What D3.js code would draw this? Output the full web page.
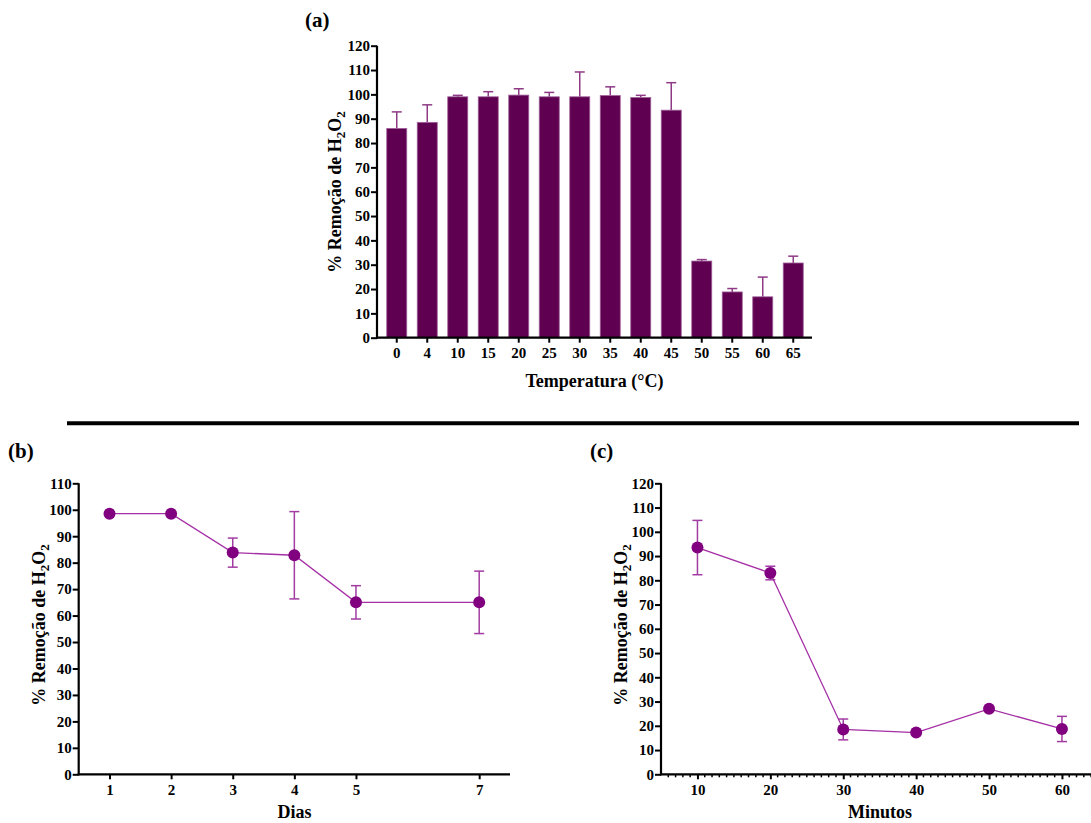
<!DOCTYPE html>
<html><head><meta charset="utf-8">
<script src="https://cdn.jsdelivr.net/npm/d3@7"></script>
<style>
html,body{margin:0;padding:0;background:#fff;}
svg text{font-family:"Liberation Serif","Times New Roman",serif;font-weight:bold;fill:#000;}
</style></head>
<body>
<svg id="c" width="1091" height="823"></svg>
<script>
// ---- data ----
const temps = ["0","4","10","15","20","25","30","35","40","45","50","55","60","65"];
const tempMeans = [86, 88.5, 99, 99, 99.7, 99, 99, 99.5, 98.7, 93.5, 31.5, 18.8, 16.8, 30.7];
const tempErr = [6.8, 7.2, 0.6, 2.1, 2.6, 1.8, 10.2, 3.6, 0.9, 11.3, 0.6, 1.4, 8.1, 2.8];

const days = [1, 2, 3, 4, 5, 7];
const dayMeans = [98.5, 98.5, 83.8, 82.8, 65, 65];
const dayErr = [0, 0, 5.5, 16.5, 6.3, 11.8];
const dayTicks = [1, 2, 3, 4, 5, 7];

const minutes = [10, 20, 30, 40, 50, 60];
const minMeans = [93.5, 83, 18.5, 17.2, 27, 18.7];
const minErr = [11.2, 2.8, 4.3, 0, 0, 5.2];
const minTicks = [10, 20, 30, 40, 50, 60];

const yTicksA = d3.range(0, 121, 10);
const yTicksB = d3.range(0, 111, 10);
const yTicksC = d3.range(0, 121, 10);

// ---- style ----
const barFill = "#600050", barStroke = "#a0609a", barErr = "#8e3a85";
const ptFill = "#800080", lineCol = "#a52fa5", errCol = "#a23ca2";
const tickFs = 15, titleFs = 18;

const svg = d3.select("#c");

function styleAxis(g, fs) {
  g.select(".domain").remove();
  g.selectAll(".tick line").attr("stroke", "#000").attr("stroke-width", 2);
  g.selectAll(".tick text").style("font-size", fs + "px");
}

function yTitle(x, y) {
  const t = svg.append("text").attr("transform", `translate(${x},${y}) rotate(-90)`)
    .attr("text-anchor", "middle").style("font-size", titleFs + "px");
  t.append("tspan").text("% Remoção de H");
  t.append("tspan").text("2").attr("dy", 4).style("font-size", "13px");
  t.append("tspan").text("O").attr("dy", -4);
  t.append("tspan").text("2").attr("dy", 4).style("font-size", "13px");
}

function panelLabel(x, y, s) {
  svg.append("text").attr("x", x).attr("y", y).style("font-size", "21px").text(s);
}

// ===== (a) bar chart =====
{
  const y = d3.scaleLinear().domain([0, 120]).range([337.7, 45.7]);
  const x = d3.scaleBand().domain(temps).range([381.5, 808.5]).paddingInner(0.344).paddingOuter(0.172);
  const axL = 377, axR = 812;
  const g = svg.append("g");
  const eb = g.append("g").attr("stroke", barErr).attr("stroke-width", 1.5);
  temps.forEach((t, i) => {
    const cx = x(t) + x.bandwidth() / 2;
    eb.append("line").attr("x1", cx).attr("x2", cx).attr("y1", y(tempMeans[i])).attr("y2", y(tempMeans[i] + tempErr[i]));
    eb.append("line").attr("x1", cx - 5).attr("x2", cx + 5).attr("y1", y(tempMeans[i] + tempErr[i])).attr("y2", y(tempMeans[i] + tempErr[i]));
  });
  g.selectAll("rect").data(temps).join("rect")
    .attr("x", d => x(d)).attr("width", x.bandwidth())
    .attr("y", (d, i) => y(tempMeans[i])).attr("height", (d, i) => y(0) - y(tempMeans[i]))
    .attr("fill", barFill).attr("stroke", barStroke).attr("stroke-width", 0.8);
  const ya = g.append("g").attr("transform", `translate(${axL},0)`)
    .call(d3.axisLeft(y).tickValues(yTicksA).tickSize(6).tickPadding(1).tickSizeOuter(0));
  styleAxis(ya, tickFs);
  const xa = g.append("g").attr("transform", `translate(0,${y(0)})`)
    .call(d3.axisBottom(x).tickSize(5).tickPadding(5).tickSizeOuter(0));
  styleAxis(xa, tickFs);
  g.append("line").attr("x1", axL).attr("x2", axL).attr("y1", y(120)).attr("y2", y(0) + 1).attr("stroke", "#000").attr("stroke-width", 2.2);
  g.append("line").attr("x1", axL - 1).attr("x2", axR).attr("y1", y(0)).attr("y2", y(0)).attr("stroke", "#000").attr("stroke-width", 2.2);
  yTitle(341, 192);
  svg.append("text").attr("x", (axL + axR) / 2).attr("y", 387).attr("text-anchor", "middle").style("font-size", titleFs + "px").text("Temperatura (°C)");
  panelLabel(305, 27, "(a)");
}

// separator
svg.append("line").attr("x1", 67).attr("x2", 1079).attr("y1", 423.3).attr("y2", 423.3).attr("stroke", "#000").attr("stroke-width", 4);

// ===== line panels =====
function linePanel(opt) {
  const { xs, ms, es, xDom, xRange, yDom, yTicks, xTicks, minor } = opt;
  const y = d3.scaleLinear().domain(yDom).range([774.3, 483.3]);
  const x = d3.scaleLinear().domain(xDom).range(xRange);
  const g = svg.append("g");
  if (minor) {
    const mt = g.append("g").attr("stroke", "#000").attr("stroke-width", 1.5);
    minor.forEach(v => {
      if (xTicks.indexOf(v) < 0) mt.append("line").attr("x1", x(v)).attr("x2", x(v)).attr("y1", y(0)).attr("y2", y(0) + 3);
    });
  }
  const ya = g.append("g").attr("transform", `translate(${xRange[0]},0)`)
    .call(d3.axisLeft(y).tickValues(yTicks).tickSize(6).tickPadding(1).tickSizeOuter(0));
  styleAxis(ya, tickFs);
  const xa = g.append("g").attr("transform", `translate(0,${y(0)})`)
    .call(d3.axisBottom(x).tickValues(xTicks).tickFormat(d3.format("d")).tickSize(5).tickPadding(5).tickSizeOuter(0));
  styleAxis(xa, tickFs);
  g.append("line").attr("x1", xRange[0]).attr("x2", xRange[0]).attr("y1", y(yDom[1])).attr("y2", y(0) + 1).attr("stroke", "#000").attr("stroke-width", 2.2);
  g.append("line").attr("x1", xRange[0] - 1).attr("x2", xRange[1]).attr("y1", y(0)).attr("y2", y(0)).attr("stroke", "#000").attr("stroke-width", 2.2);
  const eb = g.append("g").attr("stroke", errCol).attr("stroke-width", 1.5);
  xs.forEach((v, i) => {
    if (!es[i]) return;
    const cx = x(v), lo = y(ms[i] - es[i]), hi = y(ms[i] + es[i]);
    eb.append("line").attr("x1", cx).attr("x2", cx).attr("y1", lo).attr("y2", hi);
    eb.append("line").attr("x1", cx - 5).attr("x2", cx + 5).attr("y1", lo).attr("y2", lo);
    eb.append("line").attr("x1", cx - 5).attr("x2", cx + 5).attr("y1", hi).attr("y2", hi);
  });
  const line = d3.line().x((d, i) => x(xs[i])).y(d => y(d));
  g.append("path").datum(ms).attr("d", line).attr("fill", "none").attr("stroke", lineCol).attr("stroke-width", 1.3);
  g.selectAll("circle").data(ms).join("circle")
    .attr("cx", (d, i) => x(xs[i])).attr("cy", d => y(d)).attr("r", 6).attr("fill", ptFill);
  return { x, y };
}

linePanel({ xs: days, ms: dayMeans, es: dayErr, xDom: [0.5, 7.5], xRange: [78.7, 510], yDom: [0, 110], yTicks: yTicksB, xTicks: dayTicks });
yTitle(45, 625);
svg.append("text").attr("x", 294.5).attr("y", 818).attr("text-anchor", "middle").style("font-size", titleFs + "px").text("Dias");
panelLabel(8, 458, "(b)");

linePanel({ xs: minutes, ms: minMeans, es: minErr, xDom: [5, 65], xRange: [661, 1098.4], yDom: [0, 120], yTicks: yTicksC, xTicks: minTicks, minor: d3.range(6, 65, 1) });
yTitle(627, 625);
svg.append("text").attr("x", 880).attr("y", 818).attr("text-anchor", "middle").style("font-size", titleFs + "px").text("Minutos");
panelLabel(590, 458, "(c)");
</script>
</body></html>
